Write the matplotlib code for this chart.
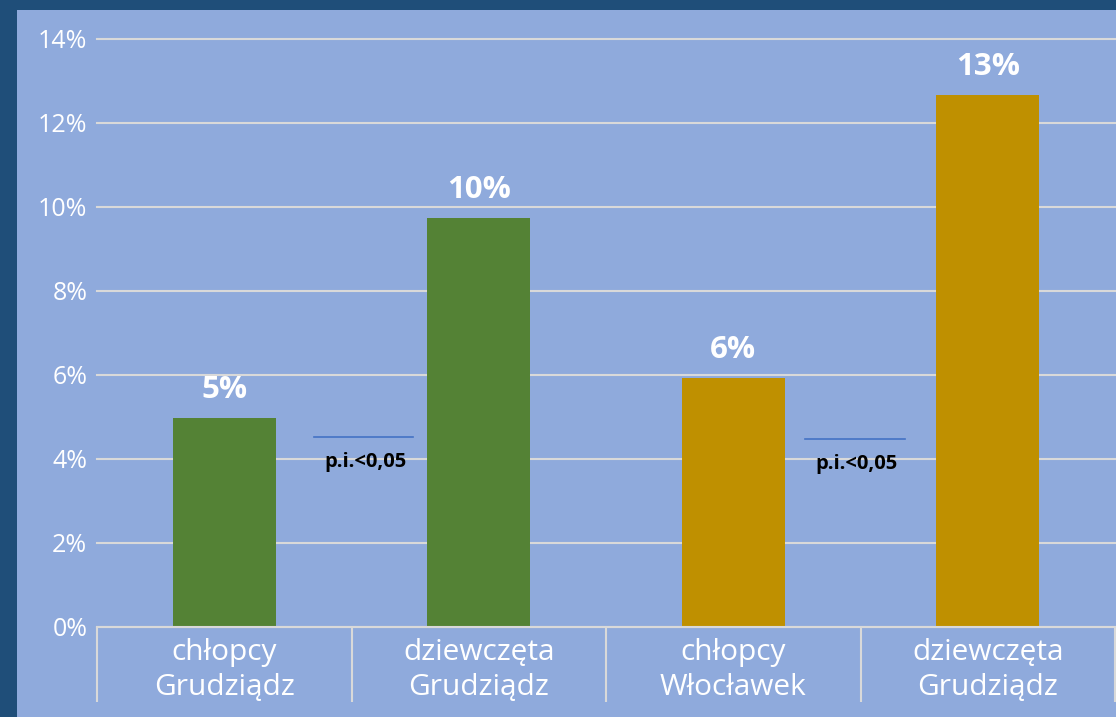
import matplotlib
matplotlib.use("Agg")
import matplotlib.pyplot as plt
from matplotlib.patches import Rectangle
from matplotlib.ticker import FuncFormatter, FixedLocator

categories = ["chłopcy\nGrudziądz", "dziewczęta\nGrudziądz", "chłopcy\nWłocławek", "dziewczęta\nGrudziądz"]
values = [0.0498, 0.0974, 0.0593, 0.1267]
value_labels = ["5%", "10%", "6%", "13%"]
bar_colors = ["#548235", "#548235", "#BF9000", "#BF9000"]
sig_label = "p.i.<0,05"
sig_levels = [0.0452, 0.0447]
sig_positions = [0.547, 2.478]

BORDER = "#1F4E79"
BG = "#8FAADC"
GRID = "#D9D9D9"

plt.rcParams['font.family'] = ['Open Sans', 'DejaVu Sans']

fig = plt.figure(figsize=(11.16, 7.17), dpi=100)
fig.patch.set_facecolor(BORDER)
W, H = 1116, 717
fig.patches.append(Rectangle((17 / W, 0), 1 - 17 / W, 1 - 10 / H, transform=fig.transFigure,
                             facecolor=BG, edgecolor="none", zorder=-10))

ax = fig.add_axes([97 / W, (H - 627) / H, (1115 - 97) / W, (627 - 39) / H])
ax.set_zorder(1)
ax.set_facecolor(BG)
x = list(range(len(categories)))
ax.bar(x, values, width=0.405, color=bar_colors, zorder=3)
ax.set_xlim(-0.5, len(categories) - 0.5)
ax.set_ylim(0, 0.14)
ax.set_yticks([i * 0.02 for i in range(8)])
ax.yaxis.set_major_formatter(FuncFormatter(lambda v, p: f"{v*100:.0f}%"))
ax.grid(axis="y", color=GRID, linewidth=1.5, zorder=0)
for gl in ax.get_ygridlines():
    gl.set_clip_on(False)
for s in ["top", "right", "left"]:
    ax.spines[s].set_visible(False)
ax.spines["bottom"].set_color(GRID)
ax.spines["bottom"].set_linewidth(1.5)
ax.spines["bottom"].set_zorder(4)
ax.tick_params(axis="y", length=0, labelsize=18, labelcolor="white", pad=7)
ax.set_xticks(x)
ax.set_xticklabels(categories, fontsize=21.5, color="white", linespacing=1.25)
ax.tick_params(axis="x", which="major", length=0, pad=8)
ax.xaxis.set_minor_locator(FixedLocator([i - 0.5 for i in range(len(categories) + 1)]))
ax.tick_params(axis="x", which="minor", length=54, width=1.5, color=GRID, direction="out")

for xi, v, lab in zip(x, values, value_labels):
    ax.text(xi, v + 0.0066, lab, ha="center", va="center", fontsize=22.5, fontweight="bold",
            color="white", zorder=5)

for xp, lvl in zip(sig_positions, sig_levels):
    ax.plot([xp - 0.196, xp + 0.196], [lvl, lvl], color="#4472C4", linewidth=1.2, zorder=5)
    ax.text(xp + 0.008, lvl - 0.0058, sig_label, ha="center", va="center", fontsize=14.5,
            fontweight="bold", color="black", zorder=5)

fig.savefig("out.png", dpi=100, facecolor=fig.get_facecolor())
